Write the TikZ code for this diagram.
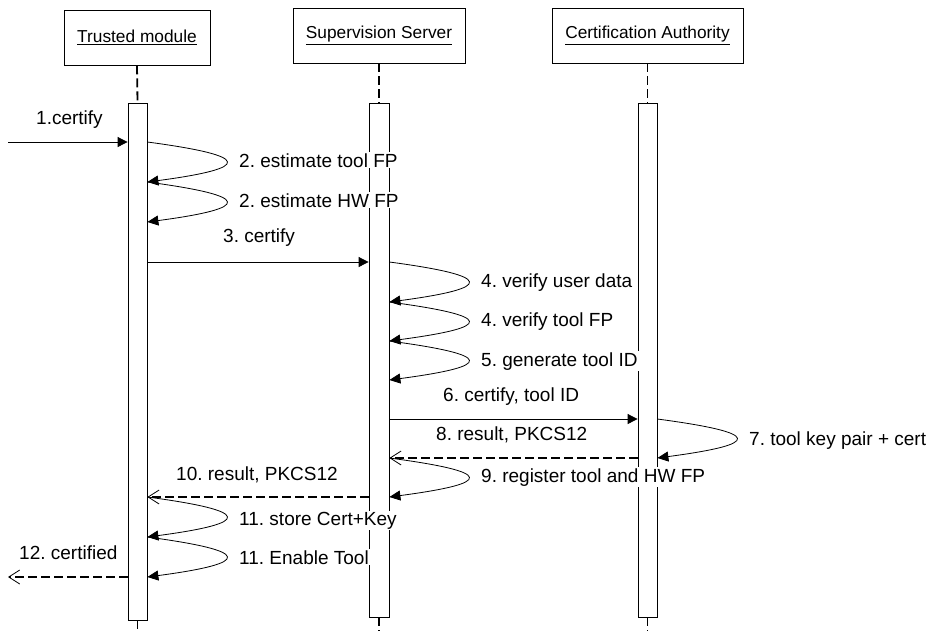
\documentclass[tikz,border=0pt]{standalone}
\usepackage{fontspec}
\setmainfont{Liberation Sans}
\usetikzlibrary{arrows.meta}
\frenchspacing
\begin{document}
\begin{tikzpicture}[x=1pt,y=-1pt,
 box/.style={draw,line width=0.8pt,minimum height=55pt,inner sep=0pt,font=\fontsize{17.3}{20}\selectfont},
 bar/.style={draw,fill=white,line width=0.8pt,inner sep=0pt},
 life/.style={line width=1.8pt,dash pattern=on 9pt off 4pt},
 msg/.style={line width=0.8pt,-{Triangle[length=10pt,width=10pt]}},
 ret/.style={line width=1.8pt,dash pattern=on 9pt off 4pt,-{Straight Barb[length=11pt,width=14pt,line width=0.8pt]}},
 selfloop/.style={line width=0.8pt,-{Triangle[length=11pt,width=10pt]}},
 lbl/.style={anchor=base west,inner sep=1pt,fill=white,font=\fontsize{19}{22}\selectfont}
]
\useasboundingbox (0,0) rectangle (936,630);
% header boxes
\node[box,minimum width=146pt] (tmbox) at (137,37.5) {\underline{Trusted module}};
\node[box,minimum width=172pt] (ssbox) at (379,35.5) {\underline{Supervision Server}};
\node[box,minimum width=191pt] (cabox) at (647.5,35.5) {\underline{Certification Authority}};
% activation bars
\node[bar,minimum width=19pt,minimum height=517pt] (tmbar) at (137.5,361.5) {};
\node[bar,minimum width=20pt,minimum height=514pt] (ssbar) at (379,360) {};
\node[bar,minimum width=19pt,minimum height=514pt] (cabar) at (647.5,360) {};
\coordinate (bot) at (0,632);
% lifelines
\draw[life] (tmbox.south) -- (tmbar.north);
\draw[life] (ssbox.south) -- (ssbar.north);
\draw[life] (cabox.south) -- (cabar.north);
\draw[life] (tmbar.south) -- (tmbar.south |- bot);
\draw[life] (ssbar.south) -- (ssbar.south |- bot);
\draw[life] (cabar.south) -- (cabar.south |- bot);
% message levels
\coordinate (y1) at (0,142);
\coordinate (y2) at (0,182);
\coordinate (y3) at (0,222);
\coordinate (y4) at (0,262);
\coordinate (y5) at (0,302);
\coordinate (y6) at (0,341);
\coordinate (y7) at (0,380);
\coordinate (y8) at (0,419);
\coordinate (y9) at (0,458);
\coordinate (y10) at (0,497);
\coordinate (y11) at (0,537);
\coordinate (y12) at (0,577);
\coordinate (src) at (8,142);
\coordinate (dst) at (8,577);
% messages
\draw[msg] (src) -- (tmbar.west |- y1);
\draw[selfloop] (tmbar.east |- y1) .. controls +(105,14) and +(105,-14) .. (tmbar.east |- y2);
\draw[selfloop] (tmbar.east |- y2) .. controls +(105,14) and +(105,-14) .. (tmbar.east |- y3);
\draw[msg] (tmbar.east |- y4) -- (ssbar.west |- y4);
\draw[selfloop] (ssbar.east |- y4) .. controls +(105,14) and +(105,-14) .. (ssbar.east |- y5);
\draw[selfloop] (ssbar.east |- y5) .. controls +(105,14) and +(105,-14) .. (ssbar.east |- y6);
\draw[selfloop] (ssbar.east |- y6) .. controls +(105,14) and +(105,-14) .. (ssbar.east |- y7);
\draw[msg] (ssbar.east |- y8) -- (cabar.west |- y8);
\draw[selfloop] (cabar.east |- y8) .. controls +(105,14) and +(105,-14) .. (cabar.east |- y9);
\draw[ret] (cabar.west |- y9) -- (ssbar.east |- y9);
\draw[selfloop] (ssbar.east |- y9) .. controls +(105,14) and +(105,-14) .. (ssbar.east |- y10);
\draw[ret] (ssbar.west |- y10) -- (tmbar.east |- y10);
\draw[selfloop] (tmbar.east |- y10) .. controls +(105,14) and +(105,-14) .. (tmbar.east |- y11);
\draw[selfloop] (tmbar.east |- y11) .. controls +(105,14) and +(105,-14) .. (tmbar.east |- y12);
\draw[ret] (tmbar.west |- y12) -- (dst);
% labels
\node[lbl] (l1) at (35,124) {1.certify};
\node[lbl] (l2) at (238,167) {2. estimate tool FP};
\node[lbl] (l3) at (238,207) {2. estimate HW FP};
\node[lbl] (l4) at (222,242) {3. certify};
\node[lbl] (l5) at (480,287) {4. verify user data};
\node[lbl] (l6) at (480,326) {4. verify tool FP};
\node[lbl] (l7) at (480,366) {5. generate tool ID};
\node[lbl] (l8) at (442,401) {6. certify, tool ID};
\node[lbl] (l9) at (748,445) {7. tool key pair + cert};
\node[lbl] (l10) at (435,440) {8. result, PKCS12};
\node[lbl] (l11) at (480,482) {9. register tool and HW FP};
\node[lbl] (l12) at (175,480) {10. result, PKCS12};
\node[lbl] (l13) at (238,525) {11. store Cert+Key};
\node[lbl] (l14) at (238,564) {11. Enable Tool};
\node[lbl] (l15) at (18,559) {12. certified};
\end{tikzpicture}
\end{document}
